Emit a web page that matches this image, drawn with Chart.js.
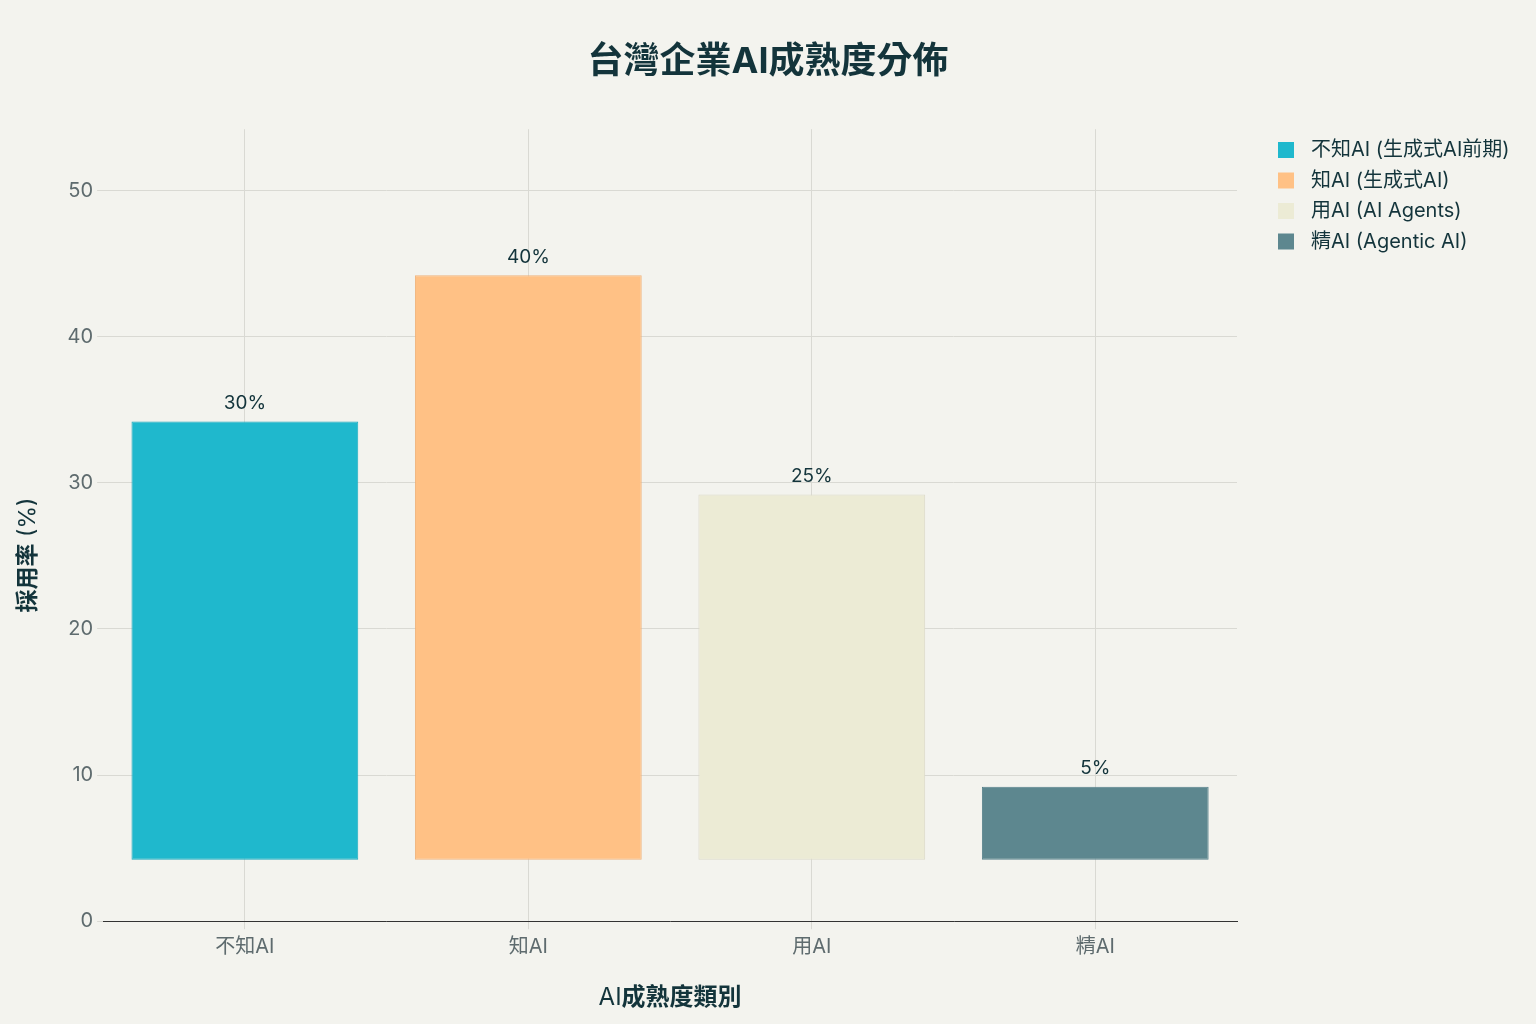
<!DOCTYPE html>
<html>
<head>
<meta charset="utf-8">
<script src="https://cdn.jsdelivr.net/npm/chart.js@4"></script>
<style>
  html, body { margin: 0; padding: 0; background: #f3f3ee; }
  #wrap { width: 1536px; height: 1024px; }
</style>
</head>
<body>
<div id="wrap"><canvas id="maturityChart" width="1536" height="1024"></canvas></div>
<script>
// chart data
const categories = ['不知AI', '知AI', '用AI', '精AI'];
const legendNames = ['不知AI (生成式AI前期)', '知AI (生成式AI)', '用AI (AI Agents)', '精AI (Agentic AI)'];
const adoption = [30, 40, 25, 5];
const barBase = 4.2;
const yTicks = [0, 10, 20, 30, 40, 50];

const fillColors = ['#1fb8cd', '#ffc185', '#ecebd5', '#5d878f'];
const edgeColors = ['#1aa9bd', '#f0b47c', '#dcdac8', '#55808a'];

const FONT = "Inter, 'Noto Sans CJK TC', sans-serif";
const INK = '#13343b';
const CLEAR = 'rgba(0,0,0,0)';

// draw text made of runs with different weights, centred on (0,0)
function drawRuns(ctx, runs, size) {
  const widths = runs.map(r => { ctx.font = r[1] + ' ' + size + 'px ' + FONT; return ctx.measureText(r[0]).width; });
  let x = -widths.reduce((a, b) => a + b, 0) / 2;
  ctx.textAlign = 'left';
  runs.forEach((r, i) => {
    ctx.font = r[1] + ' ' + size + 'px ' + FONT;
    ctx.fillText(r[0], x, 0);
    x += widths[i];
  });
}

// percent labels, title, side legend and axis titles
const extras = {
  id: 'extras',
  afterDatasetsDraw(chart) {
    const { ctx, scales, chartArea } = chart;
    const meta = chart.getDatasetMeta(0);
    ctx.save();
    ctx.fillStyle = INK;
    ctx.textAlign = 'center';
    ctx.textBaseline = 'middle';
    ctx.font = "19px " + FONT;
    meta.data.forEach((bar, i) => {
      const top = scales.y.getPixelForValue(barBase + adoption[i]);
      ctx.fillText(adoption[i] + '%', bar.x, top - 18);
    });

    // main title
    ctx.font = "bold 36px " + FONT;
    ctx.fillText('台灣企業AI成熟度分佈', chart.width / 2, 62);

    // legend
    ctx.textAlign = 'left';
    ctx.font = "20px " + FONT;
    legendNames.forEach((name, i) => {
      const y = 150 + i * 30.5;
      ctx.fillStyle = fillColors[i];
      ctx.fillRect(1278, y - 8, 16, 16);
      ctx.fillStyle = INK;
      ctx.fillText(name, 1311, y);
    });

    // x axis title
    ctx.save();
    ctx.translate((chartArea.left + chartArea.right) / 2, 998);
    drawRuns(ctx, [['AI', 'normal'], ['成熟度類別', 'bold']], 24);
    ctx.restore();

    // y axis title
    ctx.translate(28, 555);
    ctx.rotate(-Math.PI / 2);
    drawRuns(ctx, [['採用率', 'bold'], [' (%)', 'normal']], 23);
    ctx.restore();
  }
};

const ctx = document.getElementById('maturityChart');
new Chart(ctx, {
  type: 'bar',
  data: {
    labels: categories,
    datasets: [{
      data: adoption.map(v => [barBase, barBase + v]),
      backgroundColor: fillColors,
      borderColor: edgeColors,
      borderWidth: 1,
      borderSkipped: false,
      barPercentage: 0.8,
      categoryPercentage: 1.0
    }]
  },
  options: {
    responsive: false,
    animation: false,
    layout: { padding: { left: 10, right: 299, top: 20, bottom: 6 } },
    plugins: {
      title: {
        display: true,
        text: '台灣企業AI成熟度分佈',
        color: CLEAR,
        font: { family: FONT, size: 36, weight: 'bold' },
        padding: { top: 22, bottom: 44 }
      },
      legend: { display: false },
      tooltip: { enabled: false }
    },
    scales: {
      x: {
        grid: { offset: false, color: '#d9d9d3', tickLength: 8, tickColor: '#d9d9d3' },
        border: { display: true, color: '#333333', width: 1 },
        ticks: { color: '#5e6b6e', font: { family: FONT, size: 20 }, padding: 6 },
        title: {
          display: true,
          text: 'AI成熟度類別',
          color: CLEAR,
          font: { family: FONT, size: 24, weight: 'bold' },
          padding: { top: 20 }
        }
      },
      y: {
        min: 0,
        max: 54.2,
        afterBuildTicks: axis => { axis.ticks = yTicks.map(v => ({ value: v })); },
        grid: { color: '#d9d9d3', tickLength: 6, tickColor: '#d9d9d3' },
        border: { display: false },
        ticks: { color: '#5e6b6e', font: { family: FONT, size: 20 }, padding: 4 },
        title: {
          display: true,
          text: '採用率 (%)',
          color: CLEAR,
          font: { family: FONT, size: 23, weight: 'bold' },
          padding: { bottom: 22 }
        }
      }
    }
  },
  plugins: [extras]
});
</script>
</body>
</html>
